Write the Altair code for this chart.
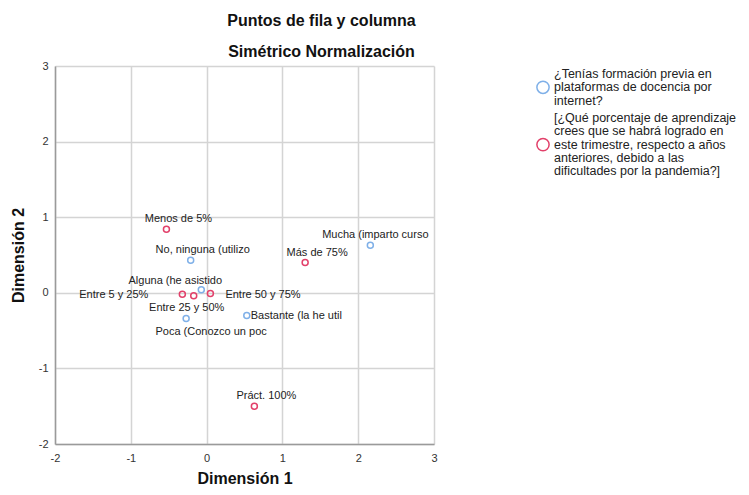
import altair as alt
import pandas as pd

FONT = "Liberation Sans"

# ---- data ----
series_a = "¿Tenías formación previa en plataformas de docencia por internet?"
series_b = ("[¿Qué porcentaje de aprendizaje crees que se habrá logrado en este trimestre, "
            "respecto a años anteriores, debido a las dificultades por la pandemia?]")

names = ["No, ninguna (utilizo", "Alguna (he asistido", "Poca (Conozco un poc",
         "Bastante (la he util", "Mucha (imparto curso",
         "Menos de 5%", "Entre 5 y 25%", "Entre 25 y 50%", "Entre 50 y 75%",
         "Más de 75%", "Práct. 100%"]
dim1 = [-0.21, -0.07, -0.27, 0.53, 2.16, -0.53, -0.32, -0.17, 0.05, 1.30, 0.63]
dim2 = [0.43, 0.04, -0.34, -0.30, 0.63, 0.84, -0.02, -0.04, -0.01, 0.40, -1.50]
series = [series_a] * 5 + [series_b] * 6

# label placement (style) for each point
label_place = ["above_r", "above_l", "below_r", "right_t", "above",
               "above_r", "left", "below_l", "right", "above_r", "above_r"]

legend_lines = {
    series_a: ["¿Tenías formación previa en", "plataformas de docencia por", "internet?"],
    series_b: ["[¿Qué porcentaje de aprendizaje", "crees que se habrá logrado en",
               "este trimestre, respecto a años", "anteriores, debido a las",
               "dificultades por la pandemia?]"],
}

x_ticks = [-2, -1, 0, 1, 2, 3]
y_ticks = [-2, -1, 0, 1, 2, 3]

df = pd.DataFrame({"name": names, "d1": dim1, "d2": dim2, "serie": series, "place": label_place})

BLUE = "#7fb0e8"
RED = "#e2406a"
LINE_H = 13.3
SYM_SIZE = 150


# legend label expression (multi-line)
def arr(lines):
    return "[" + ",".join("'" + l + "'" for l in lines) + "]"


label_expr = ("datum.label == '" + series_a + "' ? " + arr(legend_lines[series_a]) +
              " : " + arr(legend_lines[series_b]))


# legend symbols: circles centred on the multi-line label block
def circle_path(n_lines):
    scale = SYM_SIZE ** 0.5 / 2
    d = (n_lines - 1) / 2 * LINE_H / scale
    return f"M1,{d:.3f}A1,1,0,1,1,-1,{d:.3f}A1,1,0,1,1,1,{d:.3f}Z"


shape_range = [circle_path(len(legend_lines[series_a])), circle_path(len(legend_lines[series_b]))]

xscale = alt.Scale(domain=[-2, 3], nice=False, zero=False)
yscale = alt.Scale(domain=[-2, 3], nice=False, zero=False)

base = alt.Chart(df)

points = base.mark_point(filled=False, size=36, strokeWidth=1.5, opacity=1, shape="circle").encode(
    x=alt.X("d1:Q", scale=xscale,
            axis=alt.Axis(values=x_ticks, title="Dimensión 1", grid=True, ticks=False,
                          labelExpr="datum.value + ''",
                          labelFlush=False, labelPadding=8, titleY=34, titleBaseline="middle")),
    y=alt.Y("d2:Q", scale=yscale,
            axis=alt.Axis(values=y_ticks, title="Dimensión 2", grid=True, ticks=False,
                          labelExpr="datum.value + ''",
                          labelFlush=False, labelPadding=7, titleX=-37, titleBaseline="middle")),
    color=alt.Color("serie:N",
                    scale=alt.Scale(domain=[series_a, series_b], range=[BLUE, RED]),
                    legend=None),
)

legend_kw = dict(title=None, orient="none", legendX=481, legendY=1,
                 labelExpr=label_expr, labelLimit=400,
                 labelFontSize=12.5, labelFont=FONT, labelColor="#222",
                 symbolSize=SYM_SIZE, symbolOpacity=1,
                 symbolStrokeWidth=1.5, symbolFillColor="white",
                 labelOffset=4, rowPadding=3, padding=0)

legend_layer = base.transform_filter("false").mark_point(filled=False, strokeWidth=1.5).encode(
    x=alt.X("d1:Q", scale=xscale),
    y=alt.Y("d2:Q", scale=yscale),
    color=alt.Color("serie:N",
                    scale=alt.Scale(domain=[series_a, series_b], range=[BLUE, RED]),
                    legend=alt.Legend(**legend_kw)),
    shape=alt.Shape("serie:N",
                    scale=alt.Scale(domain=[series_a, series_b], range=shape_range),
                    legend=alt.Legend(**legend_kw)),
)

placements = {
    "above":   dict(align="center", dx=5,   dy=-10),
    "above_r": dict(align="center", dx=12,  dy=-10),
    "above_l": dict(align="center", dx=-26, dy=-9),
    "below_l": dict(align="center", dx=-7,  dy=12),
    "below_r": dict(align="center", dx=25,  dy=13),
    "left":    dict(align="right",  dx=-34, dy=1),
    "right":   dict(align="left",   dx=15,  dy=1),
    "right_t": dict(align="left",   dx=4,   dy=1),
}

layers = [points, legend_layer]
for key, p in placements.items():
    layers.append(
        base.transform_filter(alt.datum.place == key).mark_text(
            font=FONT, fontSize=11, color="#222", baseline="middle", **p
        ).encode(x=alt.X("d1:Q", scale=xscale), y=alt.Y("d2:Q", scale=yscale), text="name:N")
    )

chart = alt.layer(*layers).resolve_scale(
    color="independent", shape="independent"
).properties(
    width=379, height=378,
    autosize=alt.AutoSizeParams(type="none"),
    padding={"left": 47, "top": 58, "right": 307, "bottom": 43},
    title=alt.TitleParams(["Puntos de fila y columna", "Simétrico Normalización"],
                          anchor="middle", dx=77, fontSize=16, fontWeight="bold",
                          font=FONT, lineHeight=31, offset=0, color="#111"),
).configure_axis(
    gridColor="#d4d4d4", gridWidth=1.5, domainColor="#9a9a9a", domainWidth=1.5,
    labelFont=FONT, labelFontSize=11, labelColor="#333",
    titleFont=FONT, titleFontSize=16, titleFontWeight="bold", titleColor="#111",
).configure_view(strokeWidth=0)

chart.config.style = {"guide-label": {"lineHeight": LINE_H}}

chart.save("out.html", embed_options={"renderer": "svg", "actions": False})
